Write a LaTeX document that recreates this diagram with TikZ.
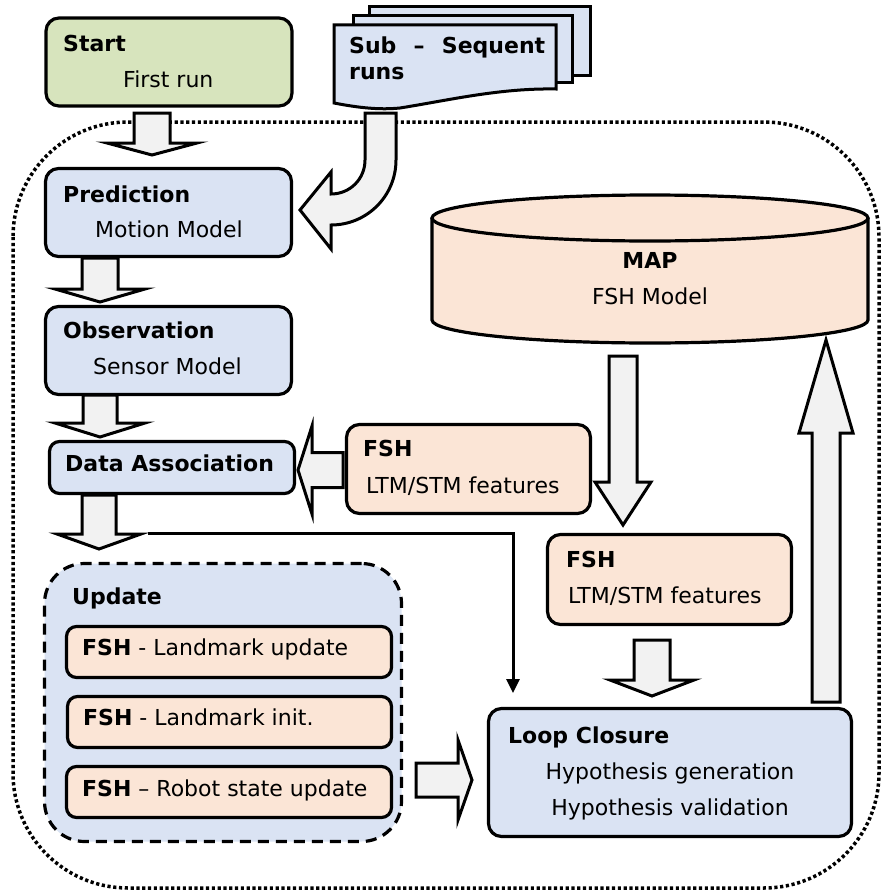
\documentclass[tikz,border=0pt]{standalone}
\usepackage{fontspec}
\setmainfont{DejaVu Sans}
\usetikzlibrary{arrows.meta}
\definecolor{boxblue}{HTML}{DAE3F3}
\definecolor{boxgreen}{HTML}{D7E4BD}
\definecolor{boxpeach}{HTML}{FBE5D6}
\definecolor{arrowgray}{HTML}{F2F2F2}
\tikzset{
  basebox/.style={draw, line width=3.2pt, rounded corners=13pt, inner sep=0pt},
  bluebox/.style={basebox, fill=boxblue},
  greenbox/.style={basebox, fill=boxgreen},
  peachbox/.style={basebox, fill=boxpeach},
  smallbox/.style={basebox, fill=boxpeach, rounded corners=10pt},
  lbl/.style={inner sep=0pt, anchor=base west, font=\fontsize{22}{26}\selectfont},
  blbl/.style={inner sep=0pt, anchor=base west, font=\fontsize{22}{26}\selectfont\bfseries},
  clbl/.style={inner sep=0pt, anchor=base, font=\fontsize{22}{26}\selectfont},
  cblbl/.style={inner sep=0pt, anchor=base, font=\fontsize{22}{26}\selectfont\bfseries},
  blk/.style={draw, line width=3pt, fill=arrowgray, line join=miter},
  docst/.style={draw, line width=3pt, fill=boxblue, line join=miter},
  thinarrow/.style={draw, line width=3pt, -{Triangle[length=14pt,width=13pt]}},
}
\newcommand\blkvert[6]{% cx, ystart, ybase, ytip, shaft half, head half
  \draw[blk] ({#1-#5},#2) -- ({#1+#5},#2) -- ({#1+#5},#3) -- ({#1+#6},#3) -- (#1,#4) -- ({#1-#6},#3) -- ({#1-#5},#3) -- cycle;}
\newcommand\blkhoriz[6]{% cy, xstart, xbase, xtip, shaft half, head half
  \draw[blk] (#2,{#1-#5}) -- (#3,{#1-#5}) -- (#3,{#1-#6}) -- (#4,#1) -- (#3,{#1+#6}) -- (#3,{#1+#5}) -- (#2,{#1+#5}) -- cycle;}
\begin{document}
\begin{tikzpicture}[x=1pt,y=-1pt]
\useasboundingbox (0,0) rectangle (882,891);

% outer dotted loop
\draw[line width=3.5pt, dash pattern=on 3.2pt off 2.6pt, rounded corners=115pt] (13,122) rectangle (879,888);

% Start
\node[greenbox, minimum width=246pt, minimum height=88pt] (start) at (169,62) {};
\node[blbl] (startT) at (63,52) {Start};
\node[lbl] (startS) at (123,88) {First run};

% Sub-sequent runs (multi document)
\draw[docst] (369,7) rectangle (590,75);
\draw[docst] (353,16) rectangle (572,82);
\draw[docst] (334,25) -- (556,25) -- (556,89) .. controls (500,88) and (450,100) .. (400,108) .. controls (380,110) and (360,108) .. (334,103) -- cycle;
\node[blbl] (subT) at (349,53) {\hbox to 196pt{Sub\hfill–\hfill Sequent}};
\node[blbl] (subR) at (349,79) {runs};

% Prediction
\node[bluebox, minimum width=246pt, minimum height=88pt] (pred) at (168.5,212.5) {};
\node[blbl] (predT) at (63,202) {Prediction};
\node[lbl] (predS) at (95,237) {Motion Model};

% Observation
\node[bluebox, minimum width=246pt, minimum height=88pt] (obs) at (168.5,350.5) {};
\node[blbl] (obsT) at (63,338) {Observation};
\node[lbl] (obsS) at (93,374) {Sensor Model};

% Data association
\node[bluebox, rounded corners=10pt, minimum width=245pt, minimum height=52pt] (da) at (172,467.5) {};
\node[blbl] (daT) at (65,471) {Data Association};

% FSH left
\node[peachbox, minimum width=244pt, minimum height=89pt] (fshl) at (468.5,469) {};
\node[blbl] (fshlT) at (363,456) {FSH};
\node[lbl] (fshlS) at (366,493) {LTM/STM features};

% MAP cylinder
\fill[boxpeach] (432,218) -- (432,320) arc[start angle=180, end angle=360, x radius=218pt, y radius=23pt] -- (868,218) -- cycle;
\draw[line width=3.2pt] (432,218) -- (432,320) arc[start angle=180, end angle=360, x radius=218pt, y radius=23pt] -- (868,218);
\draw[line width=3.2pt, fill=boxpeach] (650,218) ellipse [x radius=218pt, y radius=23pt];
\node[cblbl] (mapT) at (650,268) {MAP};
\node[clbl] (mapS) at (650,304) {FSH Model};

% FSH right
\node[peachbox, minimum width=244pt, minimum height=90pt] (fshr) at (669.5,579.5) {};
\node[blbl] (fshrT) at (566,567) {FSH};
\node[lbl] (fshrS) at (568,603) {LTM/STM features};

% Update group
\node[draw, line width=3.2pt, dash pattern=on 11pt off 7pt, fill=boxblue, rounded corners=40pt, minimum width=357pt, minimum height=278pt] (upd) at (223,702.5) {};
\node[blbl] (updT) at (72,604) {Update};
\node[smallbox, minimum width=325pt, minimum height=51pt] (ua) at (229,652) {};
\node[lbl] (uaT) at (82,655) {\textbf{FSH} - Landmark update};
\node[smallbox, minimum width=324pt, minimum height=51pt] (ub) at (229.5,722) {};
\node[lbl] (ubT) at (83,725) {\textbf{FSH} - Landmark init.};
\node[smallbox, minimum width=325pt, minimum height=51pt] (uc) at (229,792) {};
\node[lbl] (ucT) at (82,796) {\textbf{FSH} – Robot state update};

% Loop closure
\node[bluebox, minimum width=363pt, minimum height=128pt] (lc) at (670,772.5) {};
\node[blbl] (lcT) at (508,743) {Loop Closure};
\node[clbl] (lcS1) at (670,779) {Hypothesis generation};
\node[clbl] (lcS2) at (670,815) {Hypothesis validation};

% block arrows
\blkvert{152}{113}{143}{155}{18}{45}
\blkvert{100}{258}{289}{302}{18}{45}
\blkvert{100}{395}{423}{437}{17}{45}
\blkvert{99}{495}{534}{549}{17}{42}
\blkvert{623}{356}{482}{525}{14}{28}
\blkvert{652}{640}{680}{696}{18}{42}
\blkvert{826}{702}{433}{340}{14}{27}
\blkhoriz{470}{343}{312}{298}{17.5}{44}
\blkhoriz{780}{416}{458}{472}{17}{40}

% curved arrow from sub-sequent runs to prediction
\draw[blk] (365,113) -- (396,113) -- (396,160) .. controls (396,196) and (367,225) .. (331,225) -- (331,249) -- (300,210) -- (331,172) -- (331,194) .. controls (350,194) and (365,179) .. (365,160) -- cycle;

% thin connector data association -> loop closure
\coordinate (dajoin) at (148,533);
\coordinate (lcin) at (513,693);
\draw[thinarrow] (dajoin) -| (lcin);

\end{tikzpicture}
\end{document}
